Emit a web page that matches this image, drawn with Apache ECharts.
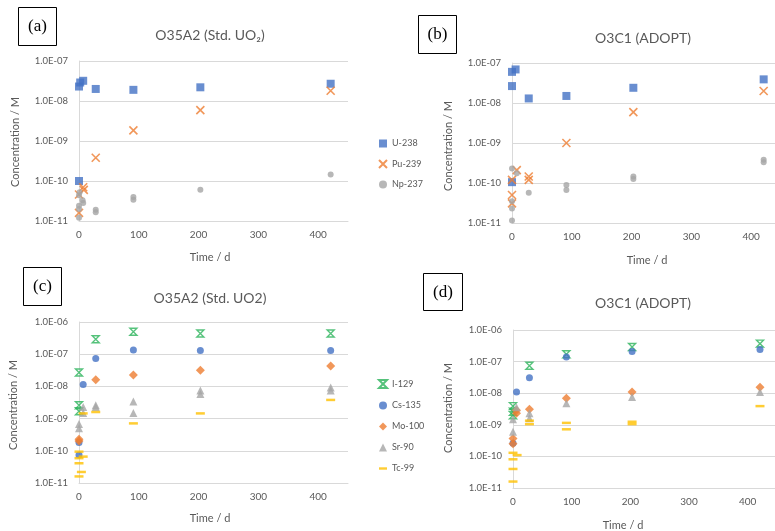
<!DOCTYPE html>
<html>
<head>
<meta charset="utf-8">
<script src="https://cdn.jsdelivr.net/npm/echarts@6/dist/echarts.min.js"></script>
<style>html,body{margin:0;padding:0;background:#fff}#c{width:775px;height:531px}</style>
</head>
<body>
<div id="c"></div>
<script>
// ---------- data: [time (d), concentration (M)] ----------
const aU238 = [[0,1.0e-10],[0,2.3e-8],[2,2.9e-8],[7,3.2e-8],[28,2.0e-8],[91,1.9e-8],[203,2.2e-8],[421,2.7e-8]];
const aPu239 = [[0,1.6e-11],[0,4.6e-11],[7,7.0e-11],[8,6.0e-11],[28,3.8e-10],[91,1.85e-9],[203,5.9e-9],[421,1.8e-8]];
const aNp237 = [[0,1.2e-11],[0,2.0e-11],[0,2.4e-11],[0,4.4e-11],[1,5.2e-11],[6,3.3e-11],[7,2.8e-11],[28,1.9e-11],[28,1.65e-11],[91,4.0e-11],[91,3.4e-11],[203,6.0e-11],[421,1.45e-10]];

const bU238 = [[0,1.05e-10],[0,2.65e-8],[0,6.0e-8],[6,6.9e-8],[28,1.3e-8],[91,1.5e-8],[203,2.4e-8],[421,3.9e-8]];
const bPu239 = [[0,3.1e-11],[0,5.0e-11],[0,1.2e-10],[8,2.1e-10],[28,1.45e-10],[28,1.2e-10],[91,1.0e-9],[203,5.9e-9],[421,2.0e-8]];
const bNp237 = [[0,1.15e-11],[0,2.3e-11],[0,3.5e-11],[0,2.3e-10],[8,1.75e-10],[28,5.7e-11],[91,8.9e-11],[91,6.7e-11],[203,1.45e-10],[203,1.25e-10],[421,3.8e-10],[421,3.3e-10]];

const cI129 = [[0,1.7e-9],[0,2.6e-9],[0,2.7e-8],[28,2.9e-7],[91,5.0e-7],[203,4.4e-7],[421,4.4e-7]];
const cCs135 = [[0,7.4e-11],[0,1.8e-10],[7,1.15e-8],[28,7.4e-8],[91,1.35e-7],[203,1.3e-7],[421,1.3e-7]];
const cMo100 = [[0,2.0e-10],[0,2.3e-10],[28,1.6e-8],[91,2.25e-8],[203,3.2e-8],[421,4.3e-8]];
const cSr90 = [[0,5.0e-10],[0,6.8e-10],[7,1.5e-9],[7,2.3e-9],[28,2.3e-9],[28,2.6e-9],[91,1.5e-9],[91,3.4e-9],[203,5.8e-9],[203,7.4e-9],[421,7.4e-9],[421,9.3e-9]];
const cTc99 = [[0,1.6e-11],[0,4.1e-11],[0,5.9e-11],[0,9.4e-11],[4,2.2e-11],[7,6.6e-11],[7,1.45e-9],[28,1.6e-9],[91,7.1e-10],[203,1.45e-9],[421,3.8e-9]];

const dI129 = [[0,2.0e-9],[0,2.6e-9],[0,3.9e-9],[28,7.4e-8],[91,1.7e-7],[203,2.9e-7],[421,3.7e-7]];
const dCs135 = [[0,2.6e-10],[6,1.1e-8],[28,3.1e-8],[91,1.4e-7],[203,2.1e-7],[421,2.4e-7]];
const dMo100 = [[0,2.5e-10],[0,3.7e-10],[6,2.3e-9],[6,2.9e-9],[28,3.1e-9],[91,6.9e-9],[203,1.1e-8],[421,1.55e-8]];
const dSr90 = [[0,6.0e-10],[0,1.5e-9],[6,3.6e-9],[28,1.6e-9],[28,2.3e-9],[91,4.8e-9],[203,7.6e-9],[421,1.1e-8]];
const dTc99 = [[0,1.6e-11],[0,4.0e-11],[0,8.1e-11],[0,1.3e-10],[7,1.1e-10],[28,1.05e-9],[28,1.35e-9],[91,7.2e-10],[91,1.15e-9],[203,1.05e-9],[203,1.25e-9],[421,3.9e-9]];

const panelTitles = ['O35A2 (Std. UO\u2082)', 'O3C1 (ADOPT)', 'O35A2 (Std. UO2)', 'O3C1 (ADOPT)'];
const panelTags = ['(a)', '(b)', '(c)', '(d)'];
const xTitle = 'Time / d';
const yTitle = 'Concentration / M';
const actNames = ['U-238', 'Pu-239', 'Np-237'];
const fpNames = ['I-129', 'Cs-135', 'Mo-100', 'Sr-90', 'Tc-99'];

// ---------- styles ----------
const FONT = 'Lato';
const GREY = '#595959';
const GRID_LINE = '#d9d9d9';
const COL = {blue:'#4472C4', orange:'#ED7D31', grey:'#A5A5A5', yellow:'#FFC000', green:'#2BB35A'};
const CROSS = 'path://M0,0L10,10M10,0L0,10';
const HOURGLASS = 'path://M0,0L10,0L0,10L10,10Z';
const DASH = 'path://M0,0H10V3H0Z';

const grids = [
  {left:79, top:61, width:269, height:160},
  {left:512, top:63, width:269, height:160},
  {left:79, top:322, width:269, height:161},
  {left:513, top:330, width:264, height:158}
];
const yMax = [1e-7, 1e-7, 1e-6, 1e-6];

function sciLabel(v) {
  const e = Math.round(Math.log10(v));
  return '1.0E' + (e < 0 ? '-' : '+') + String(Math.abs(e)).padStart(2, '0');
}

const xAxes = grids.map((g, i) => ({
  gridIndex: i, type: 'value', min: 0, max: 450, interval: 100,
  axisLine: {show: true, lineStyle: {color: GRID_LINE, width: 1}},
  axisTick: {show: false}, splitLine: {show: false},
  axisLabel: {color: GREY, fontFamily: FONT, fontSize: 10, margin: 9, showMaxLabel: false}
}));
const yAxes = grids.map((g, i) => ({
  gridIndex: i, type: 'log', logBase: 10, min: 1e-11, max: yMax[i],
  axisLine: {show: true, lineStyle: {color: GRID_LINE, width: 1}},
  axisTick: {show: false},
  splitLine: {show: true, lineStyle: {color: GRID_LINE, width: 1}},
  minorSplitLine: {show: false},
  axisLabel: {color: GREY, fontFamily: FONT, fontSize: 9.5, margin: 11, formatter: sciLabel}
}));

function sc(name, idx, data, kind) {
  const base = {name, type: 'scatter', xAxisIndex: idx, yAxisIndex: idx, data, clip: false,
    emphasis: {disabled: true}, animation: false};
  switch (kind) {
    case 'U': return Object.assign(base, {symbol: 'rect', symbolSize: 8, itemStyle: {color: COL.blue}});
    case 'Pu': return Object.assign(base, {symbol: CROSS, symbolSize: 8, itemStyle: {color: COL.orange, borderColor: COL.orange, borderWidth: 1.6}});
    case 'Np': return Object.assign(base, {symbol: 'circle', symbolSize: 6, itemStyle: {color: COL.grey}});
    case 'I': return Object.assign(base, {symbol: HOURGLASS, symbolSize: 7, itemStyle: {color: 'rgba(0,0,0,0)', borderColor: COL.green, borderWidth: 1.4}});
    case 'Cs': return Object.assign(base, {symbol: 'circle', symbolSize: 7, itemStyle: {color: COL.blue}});
    case 'Mo': return Object.assign(base, {symbol: 'diamond', symbolSize: 9, itemStyle: {color: COL.orange}});
    case 'Sr': return Object.assign(base, {symbol: 'triangle', symbolSize: 8, itemStyle: {color: COL.grey}});
    case 'Tc': return Object.assign(base, {symbol: 'rect', symbolSize: [9, 2.5], itemStyle: {color: COL.yellow}});
  }
}

const series = [
  sc('U-238', 0, aU238, 'U'), sc('Pu-239', 0, aPu239, 'Pu'), sc('Np-237', 0, aNp237, 'Np'),
  sc('U-238', 1, bU238, 'U'), sc('Pu-239', 1, bPu239, 'Pu'), sc('Np-237', 1, bNp237, 'Np'),
  sc('I-129', 2, cI129, 'I'), sc('Cs-135', 2, cCs135, 'Cs'), sc('Mo-100', 2, cMo100, 'Mo'), sc('Sr-90', 2, cSr90, 'Sr'), sc('Tc-99', 2, cTc99, 'Tc'),
  sc('I-129', 3, dI129, 'I'), sc('Cs-135', 3, dCs135, 'Cs'), sc('Mo-100', 3, dMo100, 'Mo'), sc('Sr-90', 3, dSr90, 'Sr'), sc('Tc-99', 3, dTc99, 'Tc')
];

const legendText = {color: GREY, fontFamily: FONT, fontSize: 9};
const legends = [
  {orient: 'vertical', left: 373, top: 134, itemWidth: 8, itemHeight: 8, itemGap: 11, selectedMode: false,
   textStyle: legendText, data: actNames},
  {orient: 'vertical', left: 373, top: 374, itemWidth: 8, itemHeight: 8, itemGap: 12, selectedMode: false,
   textStyle: legendText,
   data: fpNames.map(n => n === 'Tc-99' ? {name: n, icon: DASH} : n)}
];

// text overlays: tags, titles, axis titles
const tagBoxes = [[18, 7, 38, 38], [418, 15, 38, 38], [23, 267, 38, 38], [423, 273, 39, 37]];
const titlePos = [[210, 35], [643, 38], [210, 298], [643, 303]];
const xTitlePos = [[210, 257], [647, 260], [210, 518], [623, 525]];
const yTitlePos = [[15, 142], [448, 146], [13, 405], [448, 408]];

const graphic = [];
tagBoxes.forEach((b, i) => {
  graphic.push({type: 'rect', shape: {x: b[0] + 0.5, y: b[1] + 0.5, width: b[2], height: b[3]},
    style: {fill: '#fff', stroke: '#000', lineWidth: 1}, z: 10});
  graphic.push({type: 'text', x: b[0] + b[2] / 2 + 0.5, y: b[1] + b[3] / 2 + 1, z: 11,
    style: {text: panelTags[i], fill: '#000', font: '17px "Liberation Serif", serif', textAlign: 'center', textVerticalAlign: 'middle'}});
});
titlePos.forEach((p, i) => graphic.push({type: 'text', x: p[0], y: p[1], z: 11,
  style: {text: panelTitles[i], fill: GREY, font: '14px ' + FONT, textAlign: 'center', textVerticalAlign: 'middle'}}));
xTitlePos.forEach(p => graphic.push({type: 'text', x: p[0], y: p[1], z: 11,
  style: {text: xTitle, fill: GREY, font: '11px ' + FONT, textAlign: 'center', textVerticalAlign: 'middle'}}));
yTitlePos.forEach(p => graphic.push({type: 'text', x: p[0], y: p[1], rotation: Math.PI / 2, z: 11,
  style: {text: yTitle, fill: GREY, font: '11px ' + FONT, textAlign: 'center', textVerticalAlign: 'middle'}}));

const chart = echarts.init(document.getElementById('c'), null, {renderer: 'canvas', width: 775, height: 531});
chart.setOption({
  backgroundColor: '#fff',
  animation: false,
  grid: grids.map(g => Object.assign({outerBoundsMode: 'none', containLabel: false}, g)),
  xAxis: xAxes,
  yAxis: yAxes,
  legend: legends,
  series,
  graphic
});
</script>
</body>
</html>
